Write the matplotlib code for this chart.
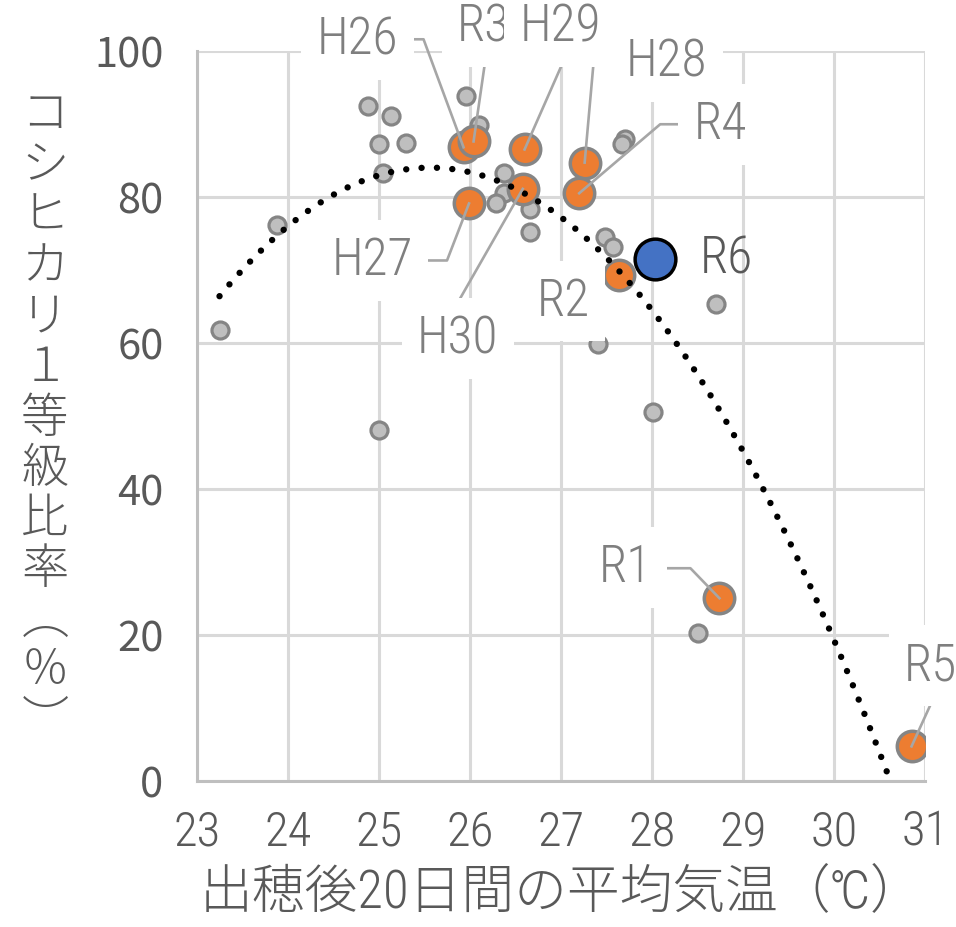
import matplotlib
matplotlib.use("Agg")
import matplotlib.pyplot as plt
import matplotlib.transforms as mtransforms
import numpy as np

plt.rcParams['font.family'] = ['Roboto Condensed', 'Noto Sans CJK JP', 'DejaVu Sans']

# 過去年（灰色）
gray_x = [23.25, 23.88, 24.88, 25.13, 25.00, 25.30, 25.04, 25.96, 26.10, 26.37, 26.37, 26.29,
          26.66, 26.66, 27.70, 27.67, 27.48, 27.57, 27.41, 28.70, 25.00, 28.01, 28.51]
gray_y = [61.8, 76.1, 92.4, 91.1, 87.2, 87.4, 83.3, 93.8, 89.9, 83.3, 80.5, 79.1,
          78.3, 75.2, 87.9, 87.3, 74.5, 73.1, 59.8, 65.3, 48.0, 50.5, 20.3]

# 近年（オレンジ）
year_labels = ['H26', 'R3', 'H29', 'H28', 'R4', 'H30', 'H27', 'R2', 'R1', 'R5']
year_x = [25.93, 26.04, 26.60, 27.26, 27.20, 26.58, 25.99, 27.64, 28.74, 30.85]
year_y = [86.8, 87.6, 86.5, 84.7, 80.5, 81.1, 79.1, 69.3, 25.0, 4.7]

# 今年
r6_x, r6_y = 28.03, 71.5

x_ticks = [23, 24, 25, 26, 27, 28, 29, 30, 31]
y_ticks = [0, 20, 40, 60, 80, 100]

# ラベル位置（点からのピクセルオフセット）とリーダー線
label_offsets = {
    'H26': (-106, 108), 'R3': (10, 115), 'H29': (36, 123), 'H28': (82, 101),
    'R4': (141, 69), 'H30': (-65, -150), 'H27': (-97, -57), 'R2': (-56, -26),
    'R1': (-94, 31), 'R5': (19, 81),
}
leaders = {
    'H26': [(-63, 108), (-40, 108), (0, 0)],
    'R3': [(11, 76), (0, 0)],
    'H29': [(37, 84), (0, 0)],
    'H28': [(29, 101), (9, 101), (0, 0)],
    'R4': [(104, 69), (81, 69), (0, 0)],
    'H27': [(-45, -57), (-22, -57), (0, 0)],
    'H30': [(-64, -112), (0, 0)],
    'R1': [(-52, 30), (-29, 30), (0, 0)],
    'R5': [(20, 44), (0, 0)],
}

fig = plt.figure(figsize=(9.56, 9.28), dpi=100)
ax = fig.add_axes([0.2058, 0.1577, 0.7620, 0.7863])

ax.set_xlim(23, 31)
ax.set_ylim(0, 100)
ax.set_xticks(x_ticks)
ax.set_yticks(y_ticks)
ax.grid(True, color='#d9d9d9', linewidth=2.2, zorder=0)
ax.set_axisbelow(True)
for s in ['top', 'right']:
    ax.spines[s].set_visible(False)
for s in ['left', 'bottom']:
    ax.spines[s].set_color('#bfbfbf')
    ax.spines[s].set_linewidth(2.2)
ax.tick_params(length=0, colors='#595959')
ax.tick_params(axis='x', labelsize=35, pad=20)
ax.tick_params(axis='y', labelsize=30, pad=24)
for t in ax.get_xticklabels():
    t.set_fontweight('light')
for t in ax.get_yticklabels():
    t.set_family(['Noto Sans CJK JP'])

# 点
ax.scatter(gray_x, gray_y, s=150, c='#bfbfbf', edgecolors='#858585', linewidths=2.3, zorder=3)
ax.scatter(year_x, year_y, s=480, c='#ed7d31', edgecolors='#858585', linewidths=2.5, zorder=4)
ax.scatter([r6_x], [r6_y], s=860, c='#4472c4', edgecolors='black', linewidths=2.5, zorder=5)

# 近似曲線（2次多項式）
all_x = np.array(gray_x + year_x)
all_y = np.array(gray_y + year_y)
coef = np.polyfit(all_x, all_y, 2)
tx = np.linspace(all_x.min(), all_x.max(), 400)
ty = np.polyval(coef, tx)
ty = np.where(ty >= 0, ty, np.nan)
ax.plot(tx, ty, color='black', linewidth=4.6, linestyle=(0, (0.01, 2.4)),
        dash_capstyle='round', zorder=6, clip_on=False)

# ラベル
for lab, x, y in zip(year_labels, year_x, year_y):
    if lab in leaders:
        tr = mtransforms.ScaledTranslation(x, y, ax.transData)
        lx, ly = zip(*leaders[lab])
        ax.plot(lx, ly, color='#a6a6a6', linewidth=1.9, transform=tr, zorder=7, clip_on=False)
    ax.annotate(lab, (x, y), xytext=label_offsets[lab], textcoords='offset pixels',
                ha='center', va='center', fontsize=37, fontweight='light', color='#7f7f7f',
                zorder=8, bbox=dict(boxstyle='square,pad=0.3', fc='white', ec='none'))
ax.annotate('R6', (r6_x, r6_y), xytext=(72, 0), textcoords='offset pixels',
            ha='center', va='center', fontsize=37, fontweight='light', color='#595959', zorder=8)

ax.set_xlabel('出穂後20日間の平均気温（℃）', fontsize=38, fontweight='light',
              color='#595959', labelpad=8)
fig.text(0.047, 0.5495, '\n'.join('コシヒカリ１等級比率︵％︶'), ha='center', va='center',
         fontsize=34, fontweight='light', color='#595959', linespacing=1.04,
         family=['Noto Sans CJK JP'])

fig.savefig('out.png', dpi=100)
